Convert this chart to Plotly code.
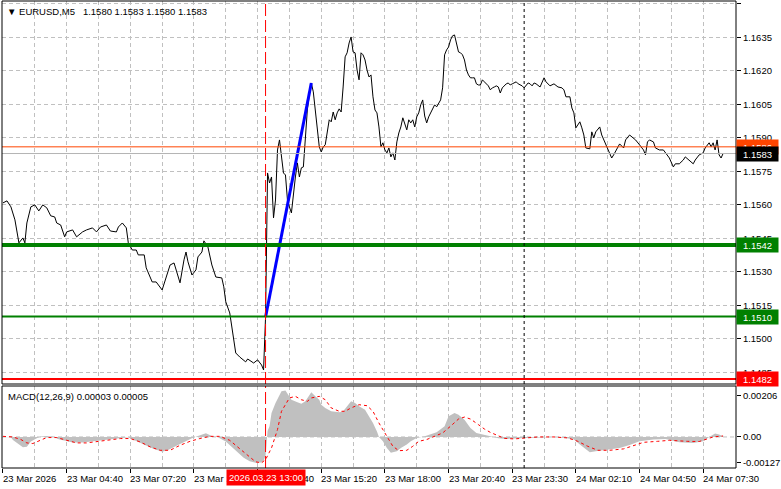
import plotly.graph_objects as go

# ---------------- data ----------------
price_bars = [0, 2, 4, 6, 8, 10, 11, 12, 14, 16, 18, 20, 22, 24, 26, 27, 29, 31, 32, 35, 37, 40, 42, 45, 47, 49,
              52, 54, 57, 58, 60, 62, 63, 65, 67, 68, 71, 72, 75, 77, 80, 82, 84, 86, 87, 89, 91, 92, 93, 95, 97,
              98, 100, 101, 103, 105, 107, 110, 111, 112, 114, 116, 117, 119, 122, 123, 126, 128, 130, 131,
              132, 133, 134, 135, 136, 137, 138, 139, 140, 141, 142, 143, 144, 145, 147, 148, 149, 150, 151, 152,
              153, 154, 155, 156, 157, 158, 159, 160, 161, 162, 163, 164, 165, 166, 167, 168, 169, 170, 171, 172,
              173, 174, 175, 176, 177, 178, 179, 180, 181, 182, 183, 184, 185, 186, 187, 188, 189, 190, 191, 192,
              193, 194, 195, 196, 197, 198, 199, 200, 201, 202, 203, 204, 205, 206, 207, 208, 209, 210, 211, 212,
              213, 214, 215, 216, 217, 218, 219, 220, 221, 222, 223, 224, 225, 226, 227, 228, 229, 230, 231, 232,
              233, 234, 235, 236, 237, 238, 239, 240, 241, 242, 243, 244, 245, 246, 247, 248, 249, 250, 251, 252,
              253, 254, 255, 256, 257, 258, 259, 260, 261, 262, 263, 264, 265, 266, 267, 268, 270, 272, 273, 274,
              275, 277, 279, 281, 282, 283, 285, 286, 287, 288, 289, 290, 291, 292, 293, 295, 296, 297, 298, 300,
              301, 302, 304, 306, 307, 309, 310, 312, 313, 315, 317, 318, 320, 322, 323, 324, 325, 327, 328, 330,
              332, 333, 335, 337, 338, 340, 342, 343, 345, 347, 348, 350, 352, 353, 355, 356, 357, 358, 359, 360,
              361, 362]
price_close = [1.15609, 1.15618, 1.15591, 1.15533, 1.15430, 1.15452, 1.15430, 1.15519, 1.15591, 1.15600,
               1.15573, 1.15600, 1.15587, 1.15551, 1.15546, 1.15519, 1.15510, 1.15457, 1.15479, 1.15488,
               1.15457, 1.15479, 1.15488, 1.15497, 1.15479, 1.15501, 1.15510, 1.15483, 1.15479, 1.15501,
               1.15519, 1.15497, 1.15430, 1.15398, 1.15398, 1.15376, 1.15376, 1.15318, 1.15255, 1.15255,
               1.15219, 1.15273, 1.15331, 1.15340, 1.15309, 1.15251, 1.15354, 1.15389, 1.15345, 1.15286,
               1.15309, 1.15367, 1.15389, 1.15439, 1.15412, 1.15331, 1.15277, 1.15273, 1.15233, 1.15166,
               1.15116, 1.15009, 1.14937, 1.14919, 1.14897, 1.14910, 1.14892, 1.14906, 1.14883, 1.14861,
               1.15098, 1.15743, 1.15698, 1.15725, 1.15542, 1.15622, 1.15846, 1.15891, 1.15801, 1.15743,
               1.15734, 1.15622, 1.15591, 1.15564, 1.15725, 1.15788, 1.15725, 1.15766, 1.15770, 1.15922,
               1.16025, 1.16093, 1.16146, 1.16106, 1.16025, 1.15936, 1.15860, 1.15837, 1.15860, 1.15869,
               1.15936, 1.15981, 1.15972, 1.16016, 1.15981, 1.16012, 1.16030, 1.16016, 1.16128, 1.16263,
               1.16281, 1.16325, 1.16352, 1.16285, 1.16281, 1.16204, 1.16160, 1.16281, 1.16272, 1.16249,
               1.16204, 1.16173, 1.16182, 1.16084, 1.16025, 1.16012, 1.15949, 1.15860, 1.15878, 1.15846,
               1.15833, 1.15855, 1.15815, 1.15833, 1.15801, 1.15882, 1.15922, 1.15949, 1.15990, 1.15967,
               1.15936, 1.15981, 1.15967, 1.15981, 1.15949, 1.15994, 1.16012, 1.16048, 1.16070, 1.15998,
               1.15967, 1.15994, 1.16012, 1.16025, 1.16048, 1.16039, 1.16057, 1.16070, 1.16124, 1.16272,
               1.16294, 1.16307, 1.16339, 1.16357, 1.16361, 1.16316, 1.16285, 1.16281, 1.16272, 1.16249,
               1.16204, 1.16182, 1.16169, 1.16169, 1.16169, 1.16142, 1.16137, 1.16137, 1.16160, 1.16151,
               1.16142, 1.16133, 1.16115, 1.16124, 1.16128, 1.16133, 1.16128, 1.16101, 1.16124, 1.16133,
               1.16142, 1.16146, 1.16137, 1.16142, 1.16146, 1.16151, 1.16142, 1.16137, 1.16133, 1.16124,
               1.16137, 1.16146, 1.16142, 1.16133, 1.16146, 1.16142, 1.16128, 1.16169, 1.16151, 1.16142,
               1.16133, 1.16142, 1.16128, 1.16124, 1.16115, 1.16084, 1.16084, 1.16034, 1.16012, 1.15945,
               1.15958, 1.15972, 1.15945, 1.15913, 1.15855, 1.15851, 1.15927, 1.15900, 1.15927, 1.15949,
               1.15913, 1.15891, 1.15855, 1.15810, 1.15824, 1.15855, 1.15873, 1.15855, 1.15891, 1.15913,
               1.15900, 1.15891, 1.15869, 1.15846, 1.15824, 1.15882, 1.15891, 1.15882, 1.15855, 1.15846,
               1.15846, 1.15833, 1.15810, 1.15770, 1.15784, 1.15784, 1.15801, 1.15815, 1.15801, 1.15784,
               1.15801, 1.15824, 1.15833, 1.15855, 1.15878, 1.15860, 1.15878, 1.15846, 1.15891, 1.15824,
               1.15810, 1.15830]

macd_bars = [0, 4, 5, 8, 10, 12, 14, 17, 19, 22, 25, 28, 32, 35, 40, 45, 50, 55, 60, 63, 65, 70, 75, 80, 83, 88,
             92, 95, 98, 102, 105, 108, 112, 115, 118, 121, 124, 127, 130, 131, 132, 133, 134, 135, 137, 139, 140,
             142, 144, 145, 148, 150, 152, 154, 155, 157, 159, 160, 162, 165, 169, 171, 173, 175, 177, 179, 182,
             184, 186, 188, 189, 191, 193, 195, 198, 200, 203, 205, 208, 212, 215, 218, 222, 224, 227, 229, 232,
             235, 238, 242, 245, 249, 253, 260, 268, 277, 283, 287, 290, 293, 295, 298, 303, 310, 315, 320, 327,
             333, 340, 347, 352, 355, 358, 360, 362]
macd_hist = [0.00000, -0.00002, -0.00015, -0.00040, -0.00052, -0.00049, -0.00023, -0.00007, 0.00002, 0.00005,
             0.00002, -0.00012, -0.00023, -0.00028, -0.00028, -0.00023, -0.00018, -0.00012, -0.00007, -0.00002,
             -0.00012, -0.00035, -0.00057, -0.00074, -0.00065, -0.00040, -0.00020, -0.00007, 0.00005, 0.00018,
             0.00005, -0.00002, -0.00023, -0.00050, -0.00080, -0.00105, -0.00122, -0.00130, -0.00128, -0.00120,
             -0.00095, 0.00030, 0.00054, 0.00120, 0.00171, 0.00212, 0.00229, 0.00234, 0.00204, 0.00187,
             0.00174, 0.00167, 0.00179, 0.00212, 0.00224, 0.00204, 0.00187, 0.00162, 0.00146, 0.00129,
             0.00124, 0.00129, 0.00154, 0.00179, 0.00171, 0.00154, 0.00137, 0.00104, 0.00070, 0.00028,
             0.00000, -0.00022, -0.00055, -0.00080, -0.00072, -0.00055, -0.00038, -0.00022, -0.00005, 0.00003,
             0.00012, 0.00023, 0.00054, 0.00104, 0.00120, 0.00112, 0.00087, 0.00045, 0.00020, 0.00012,
             0.00003, -0.00006, -0.00010, -0.00007, -0.00005, 0.00000, -0.00005, -0.00013, -0.00038, -0.00064,
             -0.00077, -0.00072, -0.00064, -0.00055, -0.00040, -0.00022, -0.00013, -0.00010, -0.00027, -0.00030,
             -0.00022, 0.00000, 0.00017, 0.00012, 0.00003]

signal_bars = [0, 5, 9, 12, 15, 19, 22, 27, 32, 37, 42, 47, 52, 59, 64, 69, 74, 79, 84, 89, 94, 99, 104, 109,
               114, 119, 124, 127, 130, 132, 135, 138, 140, 144, 147, 150, 153, 155, 159, 162, 165, 169, 172, 175,
               179, 183, 186, 189, 193, 196, 199, 203, 206, 209, 213, 217, 221, 225, 229, 232, 235, 239, 242, 245,
               248, 252, 257, 262, 269, 277, 284, 289, 294, 299, 305, 312, 317, 322, 329, 335, 344, 350, 354, 357,
               362]
macd_signal = [0.00003, 0.00000, -0.00013, -0.00030, -0.00033, -0.00017, -0.00003, -0.00003, -0.00017, -0.00030,
               -0.00030, -0.00022, -0.00017, -0.00008, -0.00008, -0.00025, -0.00050, -0.00067, -0.00067, -0.00042,
               -0.00022, -0.00008, 0.00003, 0.00003, -0.00017, -0.00059, -0.00100, -0.00125, -0.00130, -0.00114,
               -0.00055, 0.00037, 0.00129, 0.00196, 0.00204, 0.00187, 0.00179, 0.00196, 0.00204, 0.00187,
               0.00146, 0.00129, 0.00129, 0.00146, 0.00162, 0.00157, 0.00129, 0.00070, 0.00003, -0.00047,
               -0.00069, -0.00067, -0.00047, -0.00022, -0.00013, 0.00003, 0.00020, 0.00054, 0.00090, 0.00100,
               0.00090, 0.00062, 0.00040, 0.00023, 0.00010, -0.00007, -0.00010, -0.00005, 0.00000, 0.00000,
               -0.00005, -0.00022, -0.00047, -0.00067, -0.00067, -0.00060, -0.00044, -0.00027, -0.00022, -0.00017,
               -0.00022, -0.00023, -0.00010, 0.00000, 0.00005]

level_prices = [1.1542, 1.1510, 1.1482]
level_labels = ["1.1542", "1.1510", "1.1482"]
bid_price = 1.1583
ask_price = 1.1586
trend_bars = [132, 155]
trend_prices = [1.15098, 1.16146]
event_bar = 132
event_label = "2026.03.23 13:00"
day_sep_bar = 262

price_ticks = [1.1485, 1.1500, 1.1515, 1.1530, 1.1545, 1.1560, 1.1575, 1.1590, 1.1605, 1.1620, 1.1635, 1.1650]
macd_ticks = [0.00206, 0.0, -0.00127]
macd_tick_labels = ["0.00206", "0.00", "-0.00127"]
time_tick_bars = [0, 32, 64, 96, 128, 160, 192, 224, 256, 288, 320, 352]
time_tick_labels = ["23 Mar 2026", "23 Mar 04:40", "23 Mar 07:20", "23 Mar 10:00", "23 Mar 12:40",
                    "23 Mar 15:20", "23 Mar 18:00", "23 Mar 20:40", "23 Mar 23:30", "24 Mar 02:10",
                    "24 Mar 04:50", "24 Mar 07:30"]
title_text = "\u25BC EURUSD,M5\u00a0\u00a0 1.1580 1.1583 1.1580 1.1583"
macd_title = "MACD(12,26,9) 0.00003 0.00005"

# ---------------- layout constants ----------------
W, H = 781, 489
ML, MR, MT, MB = 2, 41, 1, 21
PH = H - MT - MB
main_dom = [(468 - 384) / PH, 1.0]
macd_dom = [0.0, (468 - 386) / PH]
FONT = "Liberation Sans"
FS = 9.5
GRID = "#c0c0c0"
GREEN = "#008000"

fig = go.Figure()

fig.add_trace(go.Scatter(x=macd_bars, y=macd_hist, mode="lines", line=dict(width=0, color="#c0c0c0"),
                         fill="tozeroy", fillcolor="#c0c0c0", xaxis="x", yaxis="y2", hoverinfo="skip"))
fig.add_trace(go.Scatter(x=signal_bars, y=macd_signal, mode="lines",
                         line=dict(color="#ff0000", width=1, dash="3px,3px"), xaxis="x", yaxis="y2"))
fig.add_trace(go.Scatter(x=price_bars, y=price_close, mode="lines", line=dict(color="#000000", width=1),
                         xaxis="x", yaxis="y"))
fig.add_trace(go.Scatter(x=trend_bars, y=trend_prices, mode="lines", line=dict(color="#0000ff", width=3),
                         xaxis="x", yaxis="y"))

shapes = []
shapes.append(dict(type="line", xref="paper", x0=0, x1=1, yref="y2", y0=0, y1=0,
                   line=dict(color=GRID, width=1, dash="4px,3px"), layer="below"))
shapes.append(dict(type="line", xref="paper", x0=0, x1=1, yref="y", y0=ask_price, y1=ask_price,
                   line=dict(color="#ff4500", width=1)))
shapes.append(dict(type="line", xref="paper", x0=0, x1=1, yref="y", y0=bid_price, y1=bid_price,
                   line=dict(color="#b4b4b4", width=1)))
for p, w, c in zip(level_prices, [4, 2, 2], [GREEN, GREEN, "#ff0000"]):
    shapes.append(dict(type="line", xref="paper", x0=0, x1=1, yref="y", y0=p, y1=p,
                       line=dict(color=c, width=w)))
for yr in ["y domain", "y2 domain"]:
    shapes.append(dict(type="line", xref="x", x0=event_bar, x1=event_bar, yref=yr, y0=0, y1=1,
                       line=dict(color="#ff0000", width=1, dash="12px,4px")))
    shapes.append(dict(type="line", xref="x", x0=day_sep_bar, x1=day_sep_bar, yref=yr, y0=0, y1=1,
                       line=dict(color="#000000", width=1, dash="3px,3px")))
shapes.append(dict(type="rect", xref="paper", yref="paper", x0=0, x1=1, y0=main_dom[0], y1=1,
                   line=dict(color="#000000", width=1)))
shapes.append(dict(type="rect", xref="paper", yref="paper", x0=0, x1=1, y0=0, y1=macd_dom[1],
                   line=dict(color="#000000", width=1)))

ann = []
ann.append(dict(text=title_text, xref="paper", yref="paper", x=0, y=1, xanchor="left", yanchor="top",
                xshift=3, yshift=-3, showarrow=False, font=dict(family=FONT, size=FS, color="#000000")))
ann.append(dict(text=macd_title, xref="paper", yref="paper", x=0, y=macd_dom[1], xanchor="left",
                yanchor="top", xshift=4, yshift=-3, showarrow=False,
                font=dict(family=FONT, size=FS, color="#000000")))
for b, t in zip(time_tick_bars, time_tick_labels):
    ann.append(dict(text=t, xref="x", yref="paper", x=b, y=0, xanchor="left", yanchor="top",
                    xshift=-2, yshift=-3, showarrow=False, font=dict(family=FONT, size=FS, color="#000000")))
ann.append(dict(text=event_label, xref="x", yref="paper", x=event_bar, y=0, xanchor="center", yanchor="top",
                yshift=-1, showarrow=False, bgcolor="#ff0000", borderpad=2,
                font=dict(family=FONT, size=FS, color="#ffffff")))


def price_box(p, label, bg, fg="#ffffff"):
    return dict(text=label, xref="paper", yref="y", x=1, y=p, xanchor="left", yanchor="middle",
                showarrow=False, bgcolor=bg, borderpad=2, width=37, height=10, align="center",
                font=dict(family=FONT, size=FS, color=fg))


ann.append(price_box(ask_price, "1.1586", "#ff4500"))
ann.append(price_box(bid_price, "1.1583", "#000000"))
for p, lab, c in zip(level_prices, level_labels, [GREEN, GREEN, "#ff0000"]):
    ann.append(price_box(p, lab, c))

fig.update_layout(
    width=W, height=H, margin=dict(l=ML, r=MR, t=MT, b=MB, pad=0),
    paper_bgcolor="#ffffff", plot_bgcolor="#ffffff", showlegend=False,
    font=dict(family=FONT, size=FS, color="#000000"),
    xaxis=dict(range=[-0.5, 368.5], anchor="y2", tickmode="array", tickvals=time_tick_bars,
               showticklabels=False, ticks="outside", ticklen=4, tickcolor="#000000",
               showgrid=True, gridcolor=GRID, griddash="4px,3px", zeroline=False, showline=False,
               minor=dict(tickmode="array", tickvals=list(range(16, 368, 32)), showgrid=True,
                          gridcolor=GRID, griddash="4px,3px", ticks="")),
    yaxis=dict(domain=main_dom, range=[1.14798, 1.16513], side="right", anchor="x", tickmode="array",
               tickvals=price_ticks, ticktext=["%.4f" % v for v in price_ticks], ticks="outside",
               ticklen=4, tickcolor="#000000", showgrid=True, gridcolor=GRID, griddash="4px,3px",
               zeroline=False, tickfont=dict(family=FONT, size=FS)),
    yaxis2=dict(domain=macd_dom, range=[-0.00156, 0.00256], side="right", anchor="x", tickmode="array",
                tickvals=macd_ticks, ticktext=macd_tick_labels, ticks="outside", ticklen=4,
                tickcolor="#000000", showgrid=False, zeroline=False, tickfont=dict(family=FONT, size=FS)),
    shapes=shapes, annotations=ann,
)

fig.write_html("out.html", config={"displayModeBar": False},
               post_script="document.body.style.margin='0';document.body.style.padding='0';")
